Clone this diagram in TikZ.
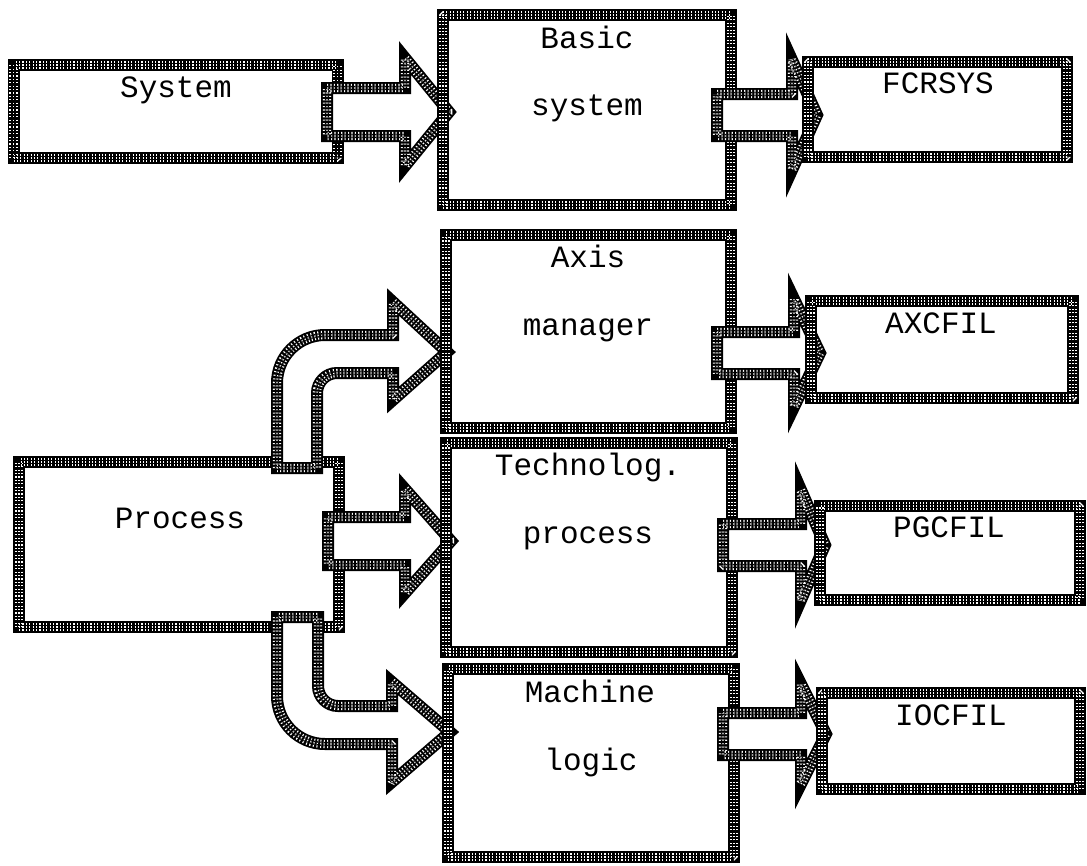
\documentclass[tikz,border=0pt]{standalone}
\usepackage{fontspec}
\setmonofont{Liberation Mono}
\begin{document}
\begin{tikzpicture}[x=1pt,y=-1pt]
\tikzset{
  % heavy rim with a grid of light dots, as on a halftone printout
  rim/.style={line width=12pt, draw=black, line join=miter,
    postaction={draw=white, line width=8.4pt, line join=bevel, dash pattern=on 1.1pt off 2.3pt},
    postaction={draw=black, line width=4.2pt, line join=bevel, dash pattern=on 1.1pt off 2.3pt},
    postaction={draw=white, line width=1.1pt, line join=bevel, dash pattern=on 1.1pt off 2.3pt}},
  box/.style={rim, rectangle, inner sep=0pt, outer sep=0pt},
  flow/.style={rim, fill=white},
  lbl/.style={font=\ttfamily\fontsize{31}{31}\selectfont, anchor=base, inner sep=0pt},
}
% straight block arrow: start x, head base x, tip x, centre y, half shaft, half head
\newcommand\blockarrow[6]{%
  \draw[flow] (#1,#4-#5) -- (#2,#4-#5) -- (#2,#4-#6) -- (#3,#4)
    -- (#2,#4+#6) -- (#2,#4+#5) -- (#1,#4+#5) -- cycle;}

\useasboundingbox (0,0) rectangle (1087,865);

% source boxes
\node[box, minimum width=324pt, minimum height=93pt]  (sys)  at (175.5,111.5) {};
\node[box, minimum width=320pt, minimum height=165pt] (proc) at (179,544.5) {};

% arrows leaving the source boxes
\blockarrow{327}{405}{449}{112}{24}{54}
\blockarrow{328}{405}{451}{541}{24}{52}
% bent arrow up to the axis manager
\draw[flow] (277,468) -- (277,383) .. controls (277,356.5) and (298.5,335) .. (325,335)
  -- (393,335) -- (393,302) -- (447,352) -- (393,400) -- (393,373) -- (337,373)
  .. controls (326,373) and (317,382) .. (317,393) -- (317,468) -- cycle;
% bent arrow down to the machine logic
\draw[flow] (277,617) -- (277,696) .. controls (277,722.5) and (298.5,744) .. (325,744)
  -- (392,744) -- (392,782) -- (450,732) -- (392,682) -- (392,706) -- (338,706)
  .. controls (327,706) and (318,697) .. (318,686) -- (318,617) -- cycle;

% middle column
\node[box, minimum width=288pt, minimum height=190pt] (basic) at (587,110) {};
\node[box, minimum width=285pt, minimum height=193pt] (axis)  at (588.5,331.5) {};
\node[box, minimum width=286pt, minimum height=209pt] (tech)  at (589,547.5) {};
\node[box, minimum width=286pt, minimum height=188pt] (mach)  at (591,763) {};

% arrows to the files
\blockarrow{717}{792}{817}{115}{21}{55}
\blockarrow{717}{794}{820}{353}{21}{54}
\blockarrow{723}{801}{825}{545}{21}{55}
\blockarrow{723}{801}{826}{734}{21}{50}

% file boxes
\node[box, minimum width=259pt, minimum height=95pt] (fcr) at (937.5,109.5) {};
\node[box, minimum width=262pt, minimum height=97pt] (axc) at (942,349.5) {};
\node[box, minimum width=260pt, minimum height=94pt] (pgc) at (950,553) {};
\node[box, minimum width=258pt, minimum height=96pt] (ioc) at (951,741) {};

% labels
\node[lbl] (t-sys)   at (176,97)  {System};
\node[lbl] (t-proc)  at (180,528) {Process};
\node[lbl] (t-bas1)  at (587,48)  {Basic};
\node[lbl] (t-bas2)  at (587,115) {system};
\node[lbl] (t-axi1)  at (588,267) {Axis};
\node[lbl] (t-axi2)  at (588,335) {manager};
\node[lbl] (t-tec1)  at (588,475) {Technolog.};
\node[lbl] (t-tec2)  at (588,543) {process};
\node[lbl] (t-mac1)  at (590,702) {Machine};
\node[lbl] (t-mac2)  at (591,770) {logic};
\node[lbl] (t-fcr)   at (938,93)  {FCRSYS};
\node[lbl] (t-axc)   at (941,333) {AXCFIL};
\node[lbl] (t-pgc)   at (949,537) {PGCFIL};
\node[lbl] (t-ioc)   at (951,725) {IOCFIL};
\end{tikzpicture}
\end{document}
